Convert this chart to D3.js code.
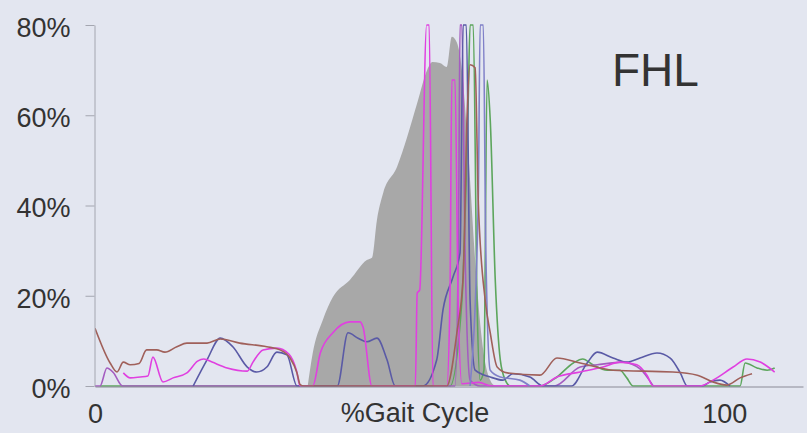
<!DOCTYPE html>
<html lang="en">
<head>
<meta charset="UTF-8">
<title>FHL EMG</title>
<script src="https://cdn.jsdelivr.net/npm/d3@7"></script>
<style>
  html, body { margin: 0; padding: 0; background: #e3e6f0; }
  svg { display: block; }
  text { font-family: "Liberation Sans", Arial, sans-serif; fill: #333; }
</style>
</head>
<body>
<div id="chart"></div>
<script>
// [% gait cycle, % activity]
var normBand = [[33.8,0],[34.6,7.3],[36.2,14.6],[37.8,19.7],[40.5,23.5],[43.2,27.9],[44,28.4],[44.8,36.8],[45.8,42.8],[48,48.6],[49.6,55.2],[51.2,62.7],[52.8,70.1],[53.6,71.8],[54.8,71.6],[55.9,70.7],[56.7,77.4],[57.5,76.1],[58.3,70],[59.3,52],[60.4,28],[61.5,10],[62.8,1.3],[63.6,0]];

var brown = [[0,12.8],[2.4,5.1],[3.5,3.1],[4.5,5.3],[5.6,4.7],[7,5],[8.2,8],[9.8,8],[11.1,7.5],[13,8.7],[14.6,9.5],[17.8,9.5],[19.9,10.4],[23,9.5],[27.3,8.7],[29.4,8],[31,6.2],[32.1,2.9],[32.6,0.3],[33.2,0],[55.9,0],[57.5,11.8],[58.5,24.2],[59.1,59],[59.6,71.2],[60.4,70.5],[60.9,41],[62,19],[62.8,11.8],[63.9,4.2],[65.5,2.9],[70.7,2.4],[73.4,6.2],[77.1,5.1],[82.3,3.5],[91.8,3.1],[95.7,2.4],[98.2,0.9],[100.4,0.2],[102.5,1.8],[104.4,2.7]];

var navy = [[15.6,0],[17.8,5.8],[19.9,10.6],[21.9,8.7],[24.2,4.2],[25.7,3.1],[27.3,4.2],[28.9,7.5],[30.5,6.9],[32.1,0],[38.5,0],[40.2,11.8],[41.8,10.6],[43.2,9.8],[44.8,10.6],[46.4,5.8],[47.7,0],[52.1,0],[54.3,5.8],[55.3,16.9],[56.9,24.2],[58,29.5],[58.5,80],[59,80],[59.6,19],[60.4,3.5],[62.8,2],[64.8,1.3],[66.4,2.7],[69.1,2],[71.2,0],[75.7,0],[78.2,5.1],[79.8,7.5],[82.3,6.2],[84.5,5.3],[86.6,6.2],[89.3,7.3],[91.4,6.2],[93,2.9],[94.1,0],[96.5,0],[97.7,0.9],[99.3,1.3],[100.9,0]];

var magenta = [[4.5,2.9],[5.6,1.8],[7.2,2],[8.4,2.2],[9.2,6.4],[10.8,0.9],[12.4,1.8],[14.6,2.9],[16.3,5.5],[17.3,6],[18.6,5.3],[21,4],[24.2,3.3],[25.1,5.3],[26.7,8],[28.9,8.4],[30.8,7.1],[32,3.5],[32.6,0],[34.6,0],[35.8,7.3],[37.8,11.8],[40.5,14.2],[42.1,14.2],[42.6,13],[44,0],[50.9,0],[51.2,20.6],[51.6,21.3],[52.7,80],[53.1,80],[53.7,0],[55.9,0],[56.4,19],[56.7,67.8],[57.2,67.8],[57.7,19],[58.3,0.5],[61,0.8],[63,0],[70.7,0],[73.4,2],[77.1,3.1],[80.7,4.2],[83.4,5.3],[86.1,4.7],[87.7,2.4],[88.7,0],[96.1,0],[98.2,1.3],[101.4,4.2],[103.6,6],[105.7,5.3],[108,3.1]];

var green = [[0.8,0],[4,0],[56.4,0],[58.3,19],[59.3,63],[59.6,80],[60.1,80],[60.7,19],[61.2,1.3],[61.8,3.5],[62.3,67.8],[62.8,59],[63.6,23.5],[64.4,5.8],[65.2,1.3],[66,0],[70.7,0],[73.4,2],[76,5.1],[77.5,6],[79.1,4.7],[81.4,3.5],[83.4,3.5],[84.5,1.8],[85.5,0],[102.5,0],[103.3,5.1],[105.2,4],[106.8,3.5],[108,4]];

var violet = [[0,0],[0.8,0],[1.9,4],[2.9,3],[4.4,0],[57.2,0],[57.8,41],[58,80],[58.3,80],[58.8,30],[59.6,1.3],[61.2,0],[73,0],[77.1,4.2],[79.8,4.7],[83.9,5.3],[86.6,3.8],[88.7,0]];

var slate = [[59.6,0],[60.9,41],[61.2,80],[61.7,80],[62.1,30],[62.8,3.5],[64.4,2],[67.5,1.3],[69.1,0]];

var yTicks = [0, 20, 40, 60, 80];
var xTicks = [0, 100];

var width = 807, height = 433;

var svg = d3.select("#chart").append("svg")
    .attr("width", width)
    .attr("height", height);

svg.append("rect").attr("width", width).attr("height", height).attr("fill", "#e3e6f0");

var x = d3.scaleLinear().domain([0, 112.5]).range([95, 803]);
var y = d3.scaleLinear().domain([0, 80]).range([386, 25]);

svg.append("clipPath").attr("id", "plot")
  .append("rect").attr("x", 95).attr("y", 24).attr("width", 710).attr("height", 363);

var g = svg.append("g").attr("clip-path", "url(#plot)");

var area = d3.area()
    .x(function(d) { return x(d[0]); })
    .y0(y(0))
    .y1(function(d) { return y(d[1]); })
    .curve(d3.curveMonotoneX);

g.append("path").datum(normBand)
    .attr("d", area)
    .attr("fill", "#a8a8a8");

var line = d3.line()
    .x(function(d) { return x(d[0]); })
    .y(function(d) { return y(d[1]); })
    .curve(d3.curveMonotoneX);

var series = [
  { data: green, color: "#5da65d" },
  { data: violet, color: "#a45cc0" },
  { data: navy, color: "#5a5aa6" },
  { data: magenta, color: "#e040e0" },
  { data: slate, color: "#8080c8" },
  { data: brown, color: "#a0605a" }
];

series.forEach(function(s) {
  g.append("path").datum(s.data)
      .attr("d", line)
      .attr("fill", "none")
      .attr("stroke", s.color)
      .attr("stroke-width", 1.6)
      .attr("stroke-linejoin", "round");
});

// axes
var yAxis = svg.append("g")
    .attr("transform", "translate(94.5,0)")
    .call(d3.axisLeft(y).tickValues(yTicks).tickFormat(function(d) { return d + "%"; })
      .tickSize(9).tickSizeOuter(0).tickPadding(15));
yAxis.select(".domain").attr("stroke", "#a4a6b0");
yAxis.selectAll(".tick line").attr("stroke", "#a4a6b0");
yAxis.selectAll(".tick text").attr("font-size", 27).attr("dy", "0.42em")
    .style("font-family", "'Liberation Sans', Arial, sans-serif").attr("fill", "#333");

var xAxis = svg.append("g")
    .attr("transform", "translate(0,386.5)")
    .call(d3.axisBottom(x).tickValues(xTicks).tickSize(0).tickSizeOuter(0).tickPadding(17));
xAxis.select(".domain").attr("stroke", "#8a8a96");
xAxis.selectAll(".tick text").attr("font-size", 27)
    .style("font-family", "'Liberation Sans', Arial, sans-serif").attr("fill", "#333");

svg.append("text")
    .attr("x", 415).attr("y", 422)
    .attr("text-anchor", "middle")
    .attr("font-size", 27)
    .text("%Gait Cycle");

svg.append("text")
    .attr("x", 612).attr("y", 86)
    .attr("font-size", 46)
    .attr("fill", "#111")
    .text("FHL");
</script>
</body>
</html>
